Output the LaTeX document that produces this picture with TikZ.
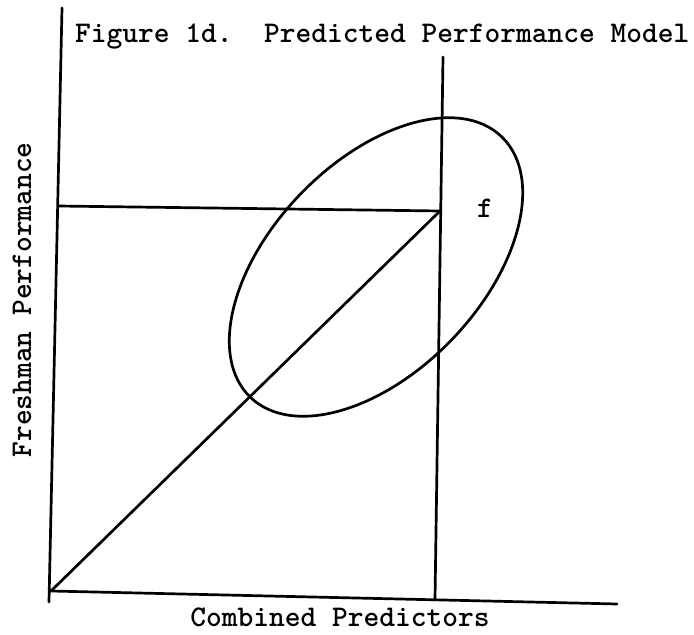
\documentclass[tikz,border=0pt]{standalone}
\begin{document}
\begin{tikzpicture}[x=1pt,y=1pt,
  ln/.style={line width=2.7pt, line cap=round},
  lbl/.style={font=\ttfamily\bfseries\fontsize{30}{34}\selectfont, inner sep=0pt}]
\useasboundingbox (0,0) rectangle (694,635);
% axes and guide points
\coordinate (ytop) at (62,627);
\coordinate (ybot) at (49,33);
\coordinate (O) at (51,44);
\coordinate (xend) at (617,31);
\coordinate (vtop) at (443,578);
\coordinate (vbot) at (435,35);
\coordinate (hstart) at (58,429);
\coordinate (P) at (440,424);
\draw[ln] (ytop) -- (ybot);
\draw[ln] (O) -- (xend);
\draw[ln] (vtop) -- (vbot);
\draw[ln] (hstart) -- (P);
\draw[ln] (O) -- (P);
\draw[ln, rotate around={46:(376,368)}] (376,368) ellipse [x radius=181, y radius=105];
% labels
\node[lbl, anchor=base west] (title) at (75,592) {Figure 1d.\ \ Predicted Performance Model};
\node[lbl] (f) at (485,427) {f};
\node[lbl, anchor=base] (xl) at (340,8) {Combined Predictors};
\node[lbl, rotate=90] (yl) at (22,335) {Freshman Performance};
\end{tikzpicture}
\end{document}
